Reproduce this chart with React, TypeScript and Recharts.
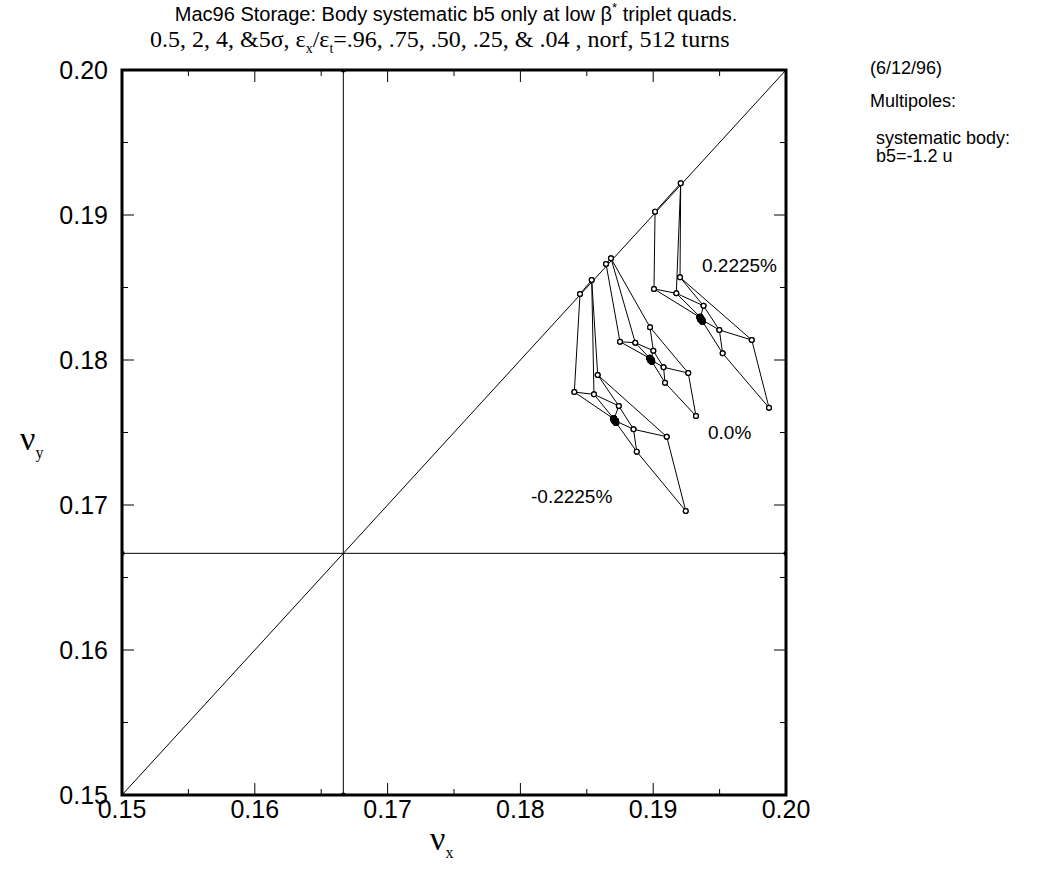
import React from 'react';
import { ScatterChart, Scatter, XAxis, YAxis, ReferenceArea, ReferenceLine } from 'recharts';

const W = 1039;
const H = 876;
const SANS = '"Liberation Sans", Arial, Helvetica, sans-serif';
const SERIF = '"Liberation Serif", "Times New Roman", serif';

const tickValues = [0.15, 0.155, 0.16, 0.165, 0.17, 0.175, 0.18, 0.185, 0.19, 0.195, 0.2];
const amplitudes = ['0.5', '2', '4', '5'];
const emittanceRatios = ['.96', '.75', '.50', '.25', '.04'];

// dp/p = -0.2225% ; rows = amplitude (0.5, 2, 4, 5 sigma), cols = ex/et (.96 .. .04)
const lowNux = [
  [0.18707, 0.18707, 0.18707, 0.18706, 0.18706],
  [0.1872, 0.18717, 0.18704, 0.18703, 0.18701],
  [0.18876, 0.18852, 0.18741, 0.18554, 0.18406],
  [0.19245, 0.19102, 0.18582, 0.18537, 0.18449],
];
const lowNuy = [
  [0.17582, 0.17583, 0.17583, 0.17584, 0.17584],
  [0.17568, 0.1758, 0.17591, 0.17595, 0.17595],
  [0.17368, 0.17522, 0.17683, 0.17763, 0.17779],
  [0.16959, 0.17471, 0.17897, 0.18552, 0.18455],
];

// dp/p = 0.0%
const zeroNux = [
  [0.18981, 0.18981, 0.18981, 0.1898, 0.1898],
  [0.1899, 0.18988, 0.18981, 0.18974, 0.18973],
  [0.19089, 0.19078, 0.19001, 0.18865, 0.1875],
  [0.19322, 0.19264, 0.18976, 0.18682, 0.18645],
];
const zeroNuy = [
  [0.17999, 0.18, 0.18, 0.18001, 0.18001],
  [0.1799, 0.17997, 0.18006, 0.18012, 0.18012],
  [0.17843, 0.1795, 0.18064, 0.18119, 0.18126],
  [0.17614, 0.1791, 0.18226, 0.18701, 0.18662],
];

// dp/p = +0.2225%
const highNux = [
  [0.19358, 0.19358, 0.19358, 0.19357, 0.19357],
  [0.19371, 0.19368, 0.19354, 0.19354, 0.1935],
  [0.19523, 0.19498, 0.19379, 0.19174, 0.19006],
  [0.19872, 0.19742, 0.19202, 0.19207, 0.19014],
];
const highNuy = [
  [0.1828, 0.18281, 0.18281, 0.18282, 0.18282],
  [0.18266, 0.18277, 0.18288, 0.18296, 0.18295],
  [0.18046, 0.18207, 0.18374, 0.1846, 0.1849],
  [0.17671, 0.18138, 0.1857, 0.19219, 0.19023],
];

// guide lines: diagonal, nu = 1/6 lines
const diagonal = [
  { x: 0.15, y: 0.15 },
  { x: 0.2, y: 0.2 },
];
const sixthV = [
  { x: 1 / 6, y: 0.15 },
  { x: 1 / 6, y: 0.2 },
];
const sixthH = [
  { x: 0.15, y: 1 / 6 },
  { x: 0.2, y: 1 / 6 },
];

const groups = [
  { name: '-0.2225%', nux: lowNux, nuy: lowNuy },
  { name: '0.0%', nux: zeroNux, nuy: zeroNuy },
  { name: '0.2225%', nux: highNux, nuy: highNuy },
];

// polylines of the amplitude x emittance grid
type Pt = { x: number; y: number; a: number };
const polylines: { key: string; pts: Pt[] }[] = [];
groups.forEach((g) => {
  emittanceRatios.forEach((e, j) => {
    polylines.push({
      key: `${g.name}-e${e}`,
      pts: amplitudes.map((_, i) => ({ x: g.nux[i][j], y: g.nuy[i][j], a: i })),
    });
  });
  amplitudes.forEach((a, i) => {
    polylines.push({
      key: `${g.name}-a${a}`,
      pts: emittanceRatios.map((_, j) => ({ x: g.nux[i][j], y: g.nuy[i][j], a: i })),
    });
  });
});

const isMajor = (v: number) => Math.round(v * 1000) % 10 === 0;
// inward tick lengths in data units (about 12px major / 6px minor)
const tickLenX = (v: number) => (isMajor(v) ? 0.0009 : 0.00045);
const tickLenY = (v: number) => (isMajor(v) ? 0.00083 : 0.00041);

const BottomTick = (props: any) => {
  const { x, y, payload } = props;
  const v = payload.value;
  return (
    <g>
      <line x1={x} y1={y} x2={x} y2={y - (isMajor(v) ? 12 : 6)} stroke="#000" strokeWidth={1} />
      {isMajor(v) && (
        <text x={x} y={y + 23} textAnchor="middle" fontSize={25} fontFamily={SANS} fill="#000">
          {v.toFixed(2)}
        </text>
      )}
    </g>
  );
};

const LeftTick = (props: any) => {
  const { x, y, payload } = props;
  const v = payload.value;
  return (
    <g>
      <line x1={x} y1={y} x2={x + (isMajor(v) ? 12 : 6)} y2={y} stroke="#000" strokeWidth={1} />
      {isMajor(v) && (
        <text x={x - 14} y={y + 9} textAnchor="end" fontSize={25} fontFamily={SANS} fill="#000">
          {v.toFixed(2)}
        </text>
      )}
    </g>
  );
};

// 0.5 and 2 sigma points sit on top of each other -> solid blob
const ringShape = (p: any) => {
  const small = p.payload && p.payload.a <= 1;
  return (
    <circle
      cx={p.cx}
      cy={p.cy}
      r={small ? 2.8 : 2.4}
      fill={small ? '#000' : '#fff'}
      stroke="#000"
      strokeWidth={1.2}
    />
  );
};
const dotShape = (p: any) => <circle cx={p.cx} cy={p.cy} r={2.5} fill="#000" />;

export default function App() {
  return (
    <div style={{ position: 'absolute', left: 0, top: 0, width: W, height: H, background: '#fff' }}>
      <ScatterChart width={W} height={H} margin={{ top: 70, right: 253, bottom: 41, left: 82 }}>
        <XAxis
          type="number"
          dataKey="x"
          domain={[0.15, 0.2]}
          ticks={tickValues}
          interval={0}
          allowDataOverflow
          height={40}
          tickSize={0}
          tickMargin={0}
          tickLine={false}
          axisLine={false}
          tick={BottomTick}
        />
        <YAxis
          type="number"
          dataKey="y"
          domain={[0.15, 0.2]}
          ticks={tickValues}
          interval={0}
          allowDataOverflow
          width={40}
          tickSize={0}
          tickMargin={0}
          tickLine={false}
          axisLine={false}
          tick={LeftTick}
        />
        {/* top and right inward ticks */}
        {tickValues.map((v) => (
          <ReferenceLine
            key={`t${v}`}
            segment={[
              { x: v, y: 0.2 },
              { x: v, y: 0.2 - tickLenY(v) },
            ]}
            stroke="#000"
            strokeWidth={1}
          />
        ))}
        {tickValues.map((v) => (
          <ReferenceLine
            key={`r${v}`}
            segment={[
              { x: 0.2, y: v },
              { x: 0.2 - tickLenX(v), y: v },
            ]}
            stroke="#000"
            strokeWidth={1}
          />
        ))}
        <ReferenceArea
          x1={0.15}
          x2={0.2}
          y1={0.15}
          y2={0.2}
          fill="none"
          fillOpacity={0}
          stroke="#000"
          strokeWidth={3}
          ifOverflow="visible"
        />
        <Scatter data={diagonal} line={{ stroke: '#000', strokeWidth: 1 }} shape={dotShape} isAnimationActive={false} />
        <Scatter data={sixthV} line={{ stroke: '#000', strokeWidth: 1 }} shape={dotShape} isAnimationActive={false} />
        <Scatter data={sixthH} line={{ stroke: '#000', strokeWidth: 1 }} shape={dotShape} isAnimationActive={false} />
        {polylines.map((pl) => (
          <Scatter
            key={pl.key}
            data={pl.pts}
            line={{ stroke: '#000', strokeWidth: 1 }}
            shape={ringShape}
            isAnimationActive={false}
          />
        ))}
      </ScatterChart>

      <svg width={W} height={H} style={{ position: 'absolute', left: 0, top: 0, pointerEvents: 'none' }}>
        <text x={456} y={21} textAnchor="middle" fontSize={20} fontFamily={SANS}>
          Mac96 Storage: Body systematic b5 only at low β
          <tspan dy={-9} fontSize={13}>*</tspan>
          <tspan dy={9}> triplet quads.</tspan>
        </text>
        <text x={150} y={47} fontSize={24} fontFamily={SERIF}>
          0.5, 2, 4, &amp;5σ, ε<tspan dy={6} fontSize={14}>x</tspan>
          <tspan dy={-6}>/ε</tspan>
          <tspan dy={6} fontSize={14}>t</tspan>
          <tspan dy={-6}>=.96, .75, .50, .25, &amp; .04 , norf, 512 turns</tspan>
        </text>

        <text x={870} y={74} fontSize={18} fontFamily={SANS}>(6/12/96)</text>
        <text x={870} y={107} fontSize={18} fontFamily={SANS}>Multipoles:</text>
        <text x={876} y={144} fontSize={18} fontFamily={SANS}>systematic body:</text>
        <text x={876} y={162} fontSize={18} fontFamily={SANS}>b5=-1.2 u</text>

        <text x={702} y={272} fontSize={19} fontFamily={SANS}>0.2225%</text>
        <text x={708} y={439} fontSize={19} fontFamily={SANS}>0.0%</text>
        <text x={531} y={503} fontSize={19} fontFamily={SANS}>-0.2225%</text>

        <text x={20} y={450} fontSize={34} fontFamily={SERIF}>
          ν<tspan dy={8} fontSize={16}>y</tspan>
        </text>
        <text x={430} y={850} fontSize={34} fontFamily={SERIF}>
          ν<tspan dy={8} fontSize={16}>x</tspan>
        </text>
      </svg>
    </div>
  );
}
